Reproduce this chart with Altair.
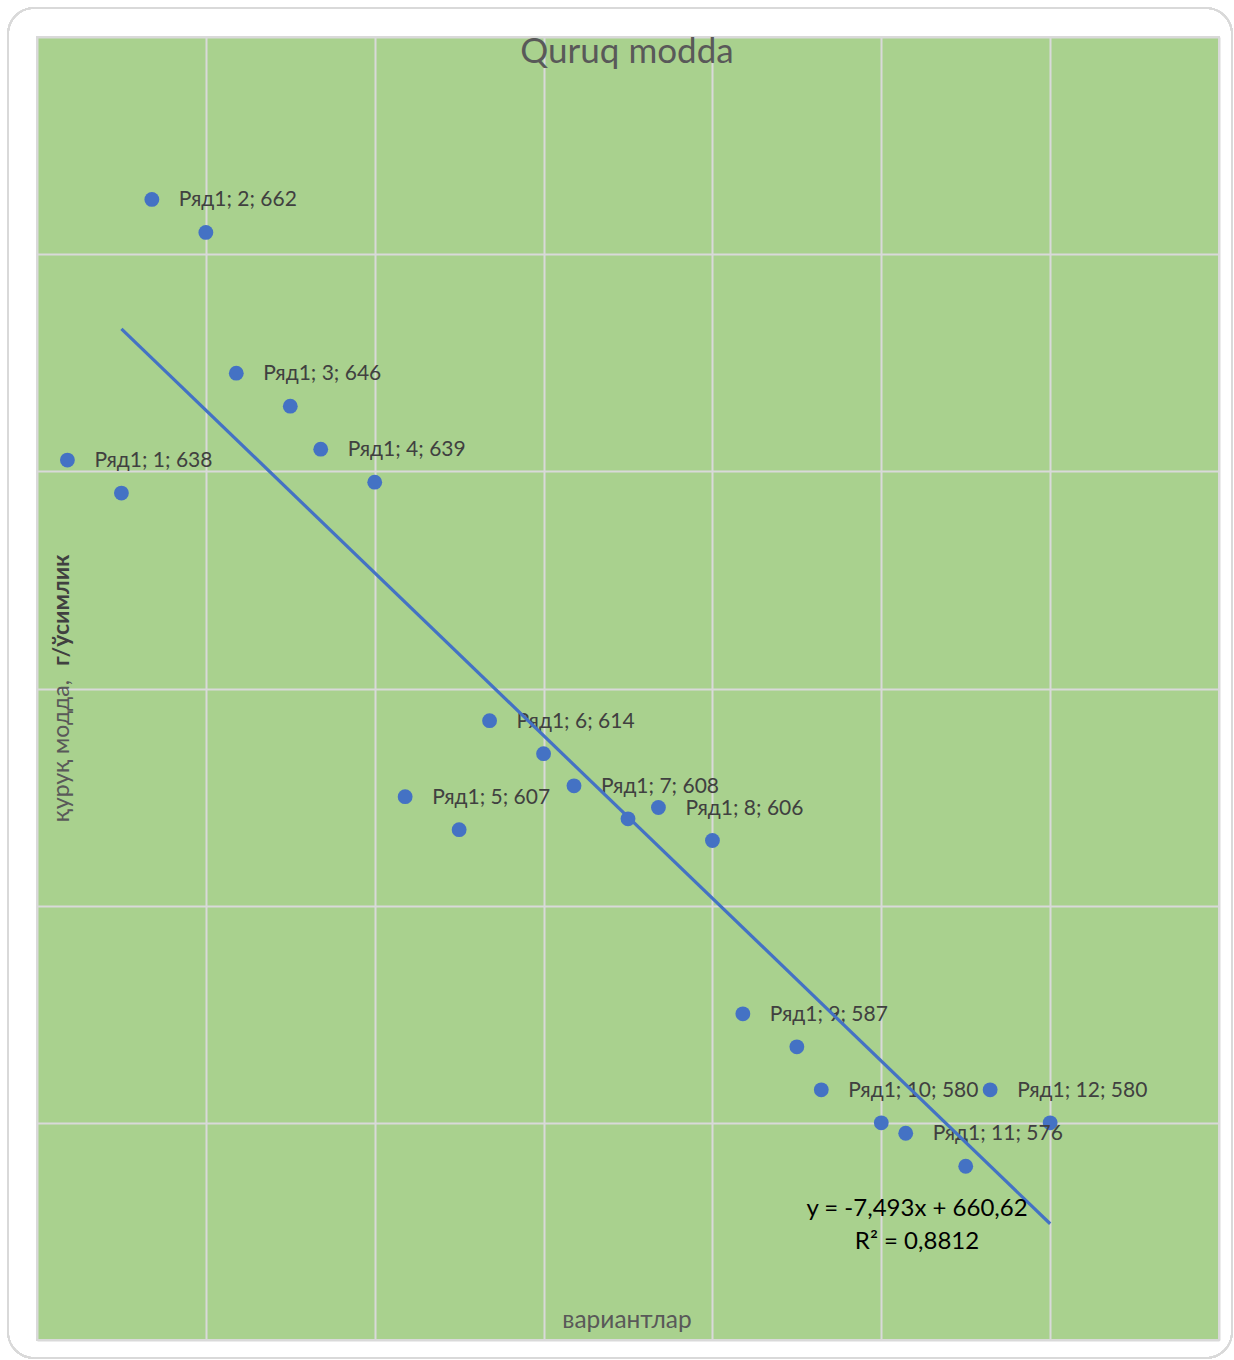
import altair as alt
import pandas as pd

# ---- data ----
series_name = "Ряд1"
x_vals = [1, 2, 3, 4, 5, 6, 7, 8, 9, 10, 11, 12]
y_vals = [638, 662, 646, 639, 607, 614, 608, 606, 587, 580, 576, 580]
title_text = "Quruq modda"
x_title = "вариантлар"
y_title_normal = "қуруқ модда,"
y_title_bold = "г/ўсимлик"
eq_line1 = "y = -7,493x + 660,62"
eq_line2 = "R² = 0,8812"
x_grid = [0, 2, 4, 6, 8, 10, 12, 14]
y_grid = [560, 580, 600, 620, 640, 660, 680]

df = pd.DataFrame({
    "x": x_vals,
    "y": y_vals,
    "label": [f"{series_name}; {x}; {y}" for x, y in zip(x_vals, y_vals)],
})

W, H = 1182, 1303
FONT = "Lato"
BLUE = "#4472C4"
PSIZE = 220

xenc = alt.X("x:Q", scale=alt.Scale(domain=[0, 14], nice=False, zero=False),
             axis=alt.Axis(values=x_grid, labels=False, ticks=False, domain=False,
                           title=None, grid=True, gridColor="#D9D9D9", gridWidth=2))
yenc = alt.Y("y:Q", scale=alt.Scale(domain=[560, 680], nice=False, zero=False),
             axis=alt.Axis(values=y_grid, labels=False, ticks=False, domain=False,
                           title=None, grid=True, gridColor="#D9D9D9", gridWidth=2))

base = alt.Chart(df).encode(x=xenc, y=yenc)

frame = alt.Chart(df).mark_rect(fill=None, stroke="#D9D9D9", strokeWidth=1.5,
                                cornerRadius=26, clip=False).encode(
    x=alt.value(-29), x2=alt.value(1195), y=alt.value(-29), y2=alt.value(1321))

points = base.mark_circle(size=PSIZE, color=BLUE, opacity=1)

key_a = base.transform_filter("datum.x < 10").mark_circle(
    size=PSIZE, color=BLUE, opacity=1, xOffset=-54, yOffset=-33)
key_b = base.transform_filter("datum.x >= 10").mark_circle(
    size=PSIZE, color=BLUE, opacity=1, xOffset=-60, yOffset=-33)

lab_a = base.transform_filter("datum.x < 10").mark_text(
    align="left", baseline="middle", font=FONT, fontSize=21, color="#404040",
    xOffset=-27, yOffset=-32).encode(text="label:N")
lab_b = base.transform_filter("datum.x >= 10").mark_text(
    align="left", baseline="middle", font=FONT, fontSize=21, color="#404040",
    xOffset=-33, yOffset=-32).encode(text="label:N")

trend = base.transform_regression("x", "y").mark_line(color=BLUE, strokeWidth=3.2)

one = alt.Chart(pd.DataFrame({"t": [0]}))
title = one.mark_text(font=FONT, fontSize=35, color="#595959", baseline="middle",
                      align="center").encode(
    x=alt.value(W / 2 - 1), y=alt.value(15), text=alt.value(title_text))
xt = one.mark_text(font=FONT, fontSize=24.5, color="#595959", baseline="middle",
                   align="center").encode(
    x=alt.value(W / 2 - 1), y=alt.value(1284), text=alt.value(x_title))
yt1 = one.mark_text(font=FONT, fontSize=23, color="#595959", baseline="middle",
                    align="right", angle=270).encode(
    x=alt.value(25), y=alt.value(643), text=alt.value(y_title_normal))
yt2 = one.mark_text(font=FONT, fontSize=23, color="#404040", fontWeight="bold",
                    baseline="middle", align="left", angle=270).encode(
    x=alt.value(25), y=alt.value(629), text=alt.value(y_title_bold))
eq1 = one.mark_text(font=FONT, fontSize=24, color="#000000", baseline="middle",
                    align="center").encode(
    x=alt.value(880), y=alt.value(1172), text=alt.value(eq_line1))
eq2 = one.mark_text(font=FONT, fontSize=24, color="#000000", baseline="middle",
                    align="center").encode(
    x=alt.value(880), y=alt.value(1205), text=alt.value(eq_line2))

chart = alt.layer(
    frame, points, key_a, key_b, lab_a, lab_b, trend,
    title, xt, yt1, yt2, eq1, eq2
).properties(
    width=W, height=H,
    autosize=alt.AutoSizeParams(type="none"),
    padding={"left": 37, "top": 37, "right": 15, "bottom": 20},
    background="#FFFFFF",
).configure_view(
    fill="#A9D18E", stroke="#D9D9D9", strokeWidth=2
)

chart.save("out.html", embed_options={"renderer": "svg", "actions": False})
